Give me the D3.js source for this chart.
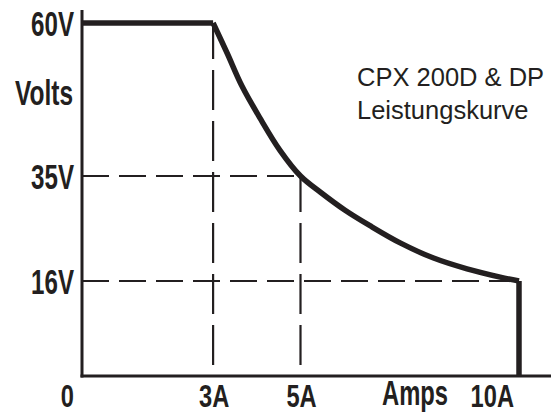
<!DOCTYPE html>
<html><head><meta charset="utf-8">
<script src="https://cdn.jsdelivr.net/npm/d3@7"></script>
<style>body{margin:0;background:#fff;overflow:hidden}</style>
</head><body><svg id="c" width="551" height="414"></svg>
<script>
// ---- data ----
const voltTicks = [60, 35, 16];
const voltLabels = ["60V", "35V", "16V"];
const ampTicks = [0, 3, 5, 10];
const ampLabels = ["0", "3A", "5A", "10A"];
const yTitle = "Volts";
const xTitle = "Amps";
const titleLines = ["CPX 200D & DP", "Leistungskurve"];
// constant-voltage segment
const cvAmps = [0, 3];
const cvVolts = [60, 60];
// power-limited curve
const curveAmps  = [3, 3.32, 3.66, 4.07, 4.53, 5, 5.45, 6.02, 6.59, 7.28, 8.03, 8.81, 9.57, 10];
const curveVolts = [60, 55.1, 49.7, 44.5, 39.2, 35, 32.1, 28.8, 26.0, 22.9, 20.2, 18.2, 16.7, 16];
// current-limit drop
const ccAmps = [10, 10];
const ccVolts = [16, 0];
// guide corners
const guideVAmps = [3, 5];
const guideVVolts = [60, 35];
const guideHAmps = [5, 10];
const guideHVolts = [35, 16];

// ---- drawing ----
const ink = "#231f20";
const svg = d3.select("#c");
const x = d3.scaleLinear().domain([0, 10]).range([82, 519]);
const y = d3.scaleLinear().domain([0, 16, 35, 60]).range([376, 281, 176, 23]);
const line = d3.line().x(d => x(d[0])).y(d => y(d[1]));

// guides
guideVAmps.forEach((a, i) => {
  svg.append("path").attr("d", line([[a, 0], [a, guideVVolts[i]]]))
    .attr("stroke", ink).attr("stroke-width", 2.2).attr("fill", "none")
    .attr("stroke-dasharray", "40,11").attr("stroke-dashoffset", 40);
});
guideHVolts.forEach((v, i) => {
  svg.append("path").attr("d", line([[0, v], [guideHAmps[i], v]]))
    .attr("stroke", ink).attr("stroke-width", 2.2).attr("fill", "none")
    .attr("stroke-dasharray", "27,10");
});

// axes
svg.append("line").attr("x1", x(0)).attr("x2", x(0)).attr("y1", 10).attr("y2", y(0) + 1.5)
  .attr("stroke", ink).attr("stroke-width", 3);
svg.append("line").attr("x1", x(0) - 1.5).attr("x2", 551).attr("y1", y(0)).attr("y2", y(0))
  .attr("stroke", ink).attr("stroke-width", 3);

// characteristic
const thick = g => g.attr("stroke", ink).attr("stroke-width", 5.5).attr("fill", "none");
svg.append("path").attr("d", line(cvAmps.map((a, i) => [a, cvVolts[i]]))).call(thick).attr("stroke-linecap", "butt");
const smooth = d3.line().x(d => x(d[0])).y(d => y(d[1])).curve(d3.curveCatmullRom.alpha(0.5));
svg.append("path").attr("d", smooth(curveAmps.map((a, i) => [a, curveVolts[i]]))).call(thick);
svg.append("path").attr("d", line(ccAmps.map((a, i) => [a, ccVolts[i]]))).call(thick).attr("stroke-linecap", "butt");

// labels
const bold = (sel, size) => sel.attr("font-family", "'Liberation Sans', Arial, sans-serif")
  .attr("font-weight", "bold").attr("font-size", size).attr("fill", ink);
voltTicks.forEach((v, i) => {
  svg.append("text").text(voltLabels[i]).call(bold, 35)
    .attr("text-anchor", "end")
    .attr("transform", `translate(${x(0) - 8},${y(v) + 13}) scale(0.69,1)`);
});
svg.append("text").text(yTitle).call(bold, 35).attr("text-anchor", "end")
  .attr("transform", `translate(${x(0) - 9},105) scale(0.7,1)`);
ampTicks.forEach((a, i) => {
  const edge = i === 0 || i === ampTicks.length - 1;
  svg.append("text").text(ampLabels[i]).call(bold, 32)
    .attr("text-anchor", edge ? "end" : "middle")
    .attr("transform", `translate(${edge ? x(a) - (i === 0 ? 8 : 5) : x(a) + 1},407) scale(0.74,1)`);
});
svg.append("text").text(xTitle).call(bold, 35).attr("text-anchor", "middle")
  .attr("transform", `translate(415,405) scale(0.68,1)`);

titleLines.forEach((t, i) => {
  svg.append("text").text(t).attr("x", 357).attr("y", 86 + i * 33)
    .attr("font-family", "'Liberation Sans', Arial, sans-serif").attr("font-size", 25.5).attr("fill", ink);
});
</script></body></html>
